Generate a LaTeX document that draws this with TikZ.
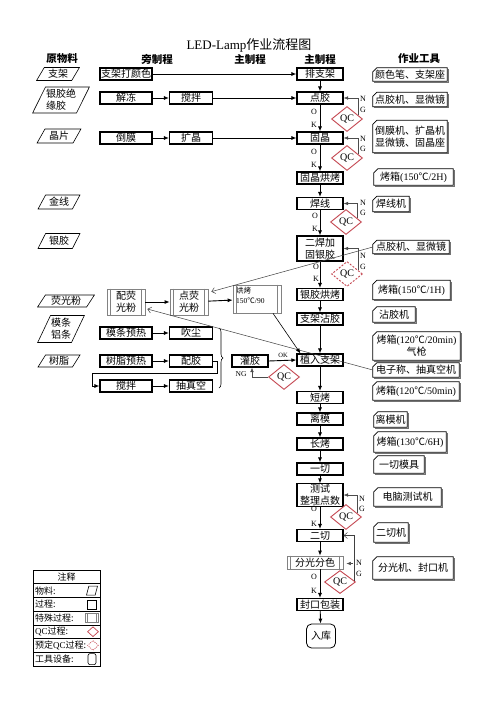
\documentclass[tikz,border=0pt]{standalone}
\usepackage{fontspec}
\setmainfont{Liberation Serif}
\newfontfamily\cjk{Noto Sans CJK SC}
\usetikzlibrary{shapes.geometric,arrows.meta,decorations.pathreplacing,calc}
\definecolor{qcred}{RGB}{196,70,80}
\definecolor{spgray}{RGB}{130,130,130}
\tikzset{
  base/.style={font=\cjk\fontsize{10}{12}\selectfont, inner sep=0.5pt, align=center},
  hdr/.style={font=\cjk\bfseries\fontsize{10.5}{12}\selectfont, inner sep=0pt},
  mainbox/.style={base, draw, line width=1.1pt, minimum width=46pt, minimum height=12pt},
  sidebox/.style={base, draw, line width=1.1pt, minimum width=52pt, minimum height=12pt},
  special/.style={base, draw=spgray, line width=0.7pt},
  mat/.style={base, draw, line width=0.6pt, trapezium, trapezium left angle=60,
    trapezium right angle=120, trapezium stretches=true},
  toolnode/.style={base},
  qc/.style={shape=diamond, draw=qcred, line width=0.9pt, minimum width=31pt,
    minimum height=25pt, inner sep=0pt, font=\rmfamily\fontsize{10}{12}\selectfont},
  oklab/.style={font=\rmfamily\fontsize{8}{9}\selectfont, inner sep=0pt},
  arr/.style={-{Latex[length=5pt,width=4pt]}, line width=0.9pt},
  ngline/.style={draw=black!70, line width=0.5pt, -{Latex[length=4.5pt,width=3.5pt]}},
  openline/.style={draw=black!75, line width=0.5pt, -{Straight Barb[length=3.5pt,width=6pt]}},
  lgtext/.style={font=\cjk\fontsize{9}{10}\selectfont, inner sep=0pt, anchor=west},
}
\begin{document}
\begin{tikzpicture}[x=1pt,y=-1pt]
\fill[white] (0,0) rectangle (500,707);
\useasboundingbox (0,0) rectangle (500,707);

% title and headers
\node[base, font=\cjk\fontsize{13}{15}\selectfont] (title) at (249,45) {{\rmfamily LED-Lamp}作业流程图};
\node[hdr] (h1) at (62,59) {原物料};
\node[hdr] (h2) at (157,59) {旁制程};
\node[hdr] (h3) at (250,59) {主制程};
\node[hdr] (h4) at (320,59) {主制程};
\node[hdr] (h5) at (419,59) {作业工具};

% materials
\node[mat, minimum width=43pt, minimum height=13pt] (m1) at (58,74) {支架};
\node[mat, minimum width=56pt, minimum height=26pt, align=left] (m2) at (61,100) {银胶绝\\缘胶};
\node[mat, minimum width=44pt, minimum height=14pt] (m3) at (59,136) {晶片};
\node[mat, minimum width=42pt, minimum height=14pt] (m4) at (59,202) {金线};
\node[mat, minimum width=42pt, minimum height=15pt] (m5) at (59,241) {银胶};
\node[mat, minimum width=57pt, minimum height=12pt] (m6) at (66,301) {荧光粉};
\node[mat, minimum width=42pt, minimum height=27pt, align=left] (m7) at (61,329) {模条\\铝条};
\node[mat, minimum width=42pt, minimum height=12pt] (m8) at (59,361) {树脂};

% side processes
\node[sidebox] (s1) at (126,74) {支架打颜色};
\node[sidebox] (s2) at (126,98) {解冻};
\node[sidebox, minimum width=43pt] (s3) at (191,98) {搅拌};
\node[sidebox] (s4) at (126,138) {倒膜};
\node[sidebox, minimum width=43pt] (s5) at (191,138) {扩晶};
\node[sidebox] (s6) at (126,333) {模条预热};
\node[sidebox, minimum width=43pt] (s7) at (191,333) {吹尘};
\node[sidebox] (s8) at (126,361) {树脂预热};
\node[sidebox, minimum width=43pt] (s9) at (191,361) {配胶};
\node[sidebox] (s10) at (126,386) {搅拌};
\node[sidebox, minimum width=43pt] (s11) at (191,386) {抽真空};

% fluorescent special processes
\node[special, minimum width=38pt, minimum height=26pt] (f1) at (126,302) {配荧\\光粉};
\node[special, minimum width=38pt, minimum height=26pt] (f2) at (189,302) {点荧\\光粉};
\node[special, minimum width=48pt, minimum height=28pt] (f3) at (257,299) {};
\node[font=\cjk\fontsize{7.5}{10}\selectfont, inner sep=0pt, anchor=north west, align=left] (f3t) at (236,287) {烘烤\\{\rmfamily 150}℃{\rmfamily /90}};
\node[sidebox, minimum width=36pt] (g) at (250,361) {灌胶};

% main column
\node[mainbox] (p1) at (320,74) {排支架};
\node[mainbox] (p2) at (320,98) {点胶};
\node[mainbox] (p3) at (320,138) {固晶};
\node[mainbox] (p4) at (320,178) {固晶烘烤};
\node[mainbox] (p5) at (320,203.5) {焊线};
\node[mainbox, minimum height=25pt] (p6) at (320,248.5) {二焊加\\固银胶};
\node[mainbox] (p7) at (320,294.5) {银胶烘烤};
\node[mainbox] (p8) at (320,319) {支架沾胶};
\node[mainbox] (p9) at (320,360) {植入支架};
\node[mainbox] (p10) at (320,397.5) {短烤};
\node[mainbox] (p11) at (320,419) {离模};
\node[mainbox] (p12) at (320,444) {长烤};
\node[mainbox] (p13) at (320,469) {一切};
\node[mainbox, minimum height=22pt] (p14) at (320,495) {测试\\整理点数};
\node[mainbox] (p15) at (320,535.5) {二切};
\node[special, minimum width=56pt, minimum height=13pt] (p16) at (315,562.5) {分光分色};
\node[mainbox] (p17) at (320,604.5) {封口包装};
\node[base, draw, line width=0.8pt, rounded corners=5pt, minimum width=29pt, minimum height=24pt] (p18) at (321,636) {入库};

% special-process inner bars
\foreach \n in {f1,f2,f3,p16} {
  \draw[spgray, line width=0.6pt] ([xshift=4pt]\n.north west) -- ([xshift=4pt]\n.south west);
  \draw[spgray, line width=0.6pt] ([xshift=-4pt]\n.north east) -- ([xshift=-4pt]\n.south east);
}

% QC diamonds
\node[qc] (q1) at (347,119) {QC};
\node[qc] (q2) at (347,158) {QC};
\node[qc] (q3) at (346,222) {QC};
\node[qc, dash pattern=on 2pt off 1.5pt] (q4) at (347,274) {QC};
\node[qc] (q5) at (284,377) {QC};
\node[qc] (q6) at (346,517) {QC};
\node[qc, minimum height=23pt] (q7) at (340,582) {QC};

% tools
\node[toolnode, minimum width=74pt, minimum height=13pt] (t1) at (410,74.5) {颜色笔、支架座};
\node[toolnode, minimum width=74pt, minimum height=14pt] (t2) at (410,99.5) {点胶机、显微镜};
\node[toolnode, minimum width=74pt, minimum height=32pt] (t3) at (410,136.5) {倒膜机、扩晶机\\显微镜、固晶座};
\node[toolnode, minimum width=79pt, minimum height=16pt] (t4) at (413.5,177) {烤箱{\rmfamily (150}℃{\rmfamily /2H)}};
\node[toolnode, minimum width=36pt, minimum height=15pt] (t5) at (391,204) {焊线机};
\node[toolnode, minimum width=76pt, minimum height=13pt] (t6) at (411,247) {点胶机、显微镜};
\node[toolnode, minimum width=77pt, minimum height=19pt] (t7) at (411.5,290) {烤箱{\rmfamily (150}℃{\rmfamily /1H)}};
\node[toolnode, minimum width=42pt, minimum height=15pt] (t8) at (394,314.5) {沾胶机};
\node[toolnode, minimum width=87pt, minimum height=28pt] (t9) at (416.5,346) {烤箱{\rmfamily (120}℃{\rmfamily /20min)}\\气枪};
\node[toolnode, minimum width=86pt, minimum height=14pt] (t10) at (416,370) {电子称、抽真空机};
\node[toolnode, minimum width=86pt, minimum height=18pt] (t11) at (416,391) {烤箱{\rmfamily (120}℃{\rmfamily /50min)}};
\node[toolnode, minimum width=33pt, minimum height=15pt] (t12) at (390.5,419.5) {离模机};
\node[toolnode, minimum width=72pt, minimum height=20pt] (t13) at (410,442) {烤箱{\rmfamily (130}℃{\rmfamily /6H)}};
\node[toolnode, minimum width=50pt, minimum height=17pt] (t14) at (399,464.5) {一切模具};
\node[toolnode, minimum width=67pt, minimum height=18pt] (t15) at (407.5,497) {电脑测试机};
\node[toolnode, minimum width=34pt, minimum height=19pt] (t16) at (391,532.5) {二切机};
\node[toolnode, minimum width=80pt, minimum height=22pt] (t17) at (413,568) {分光机、封口机};
\foreach \n in {t1,t2,t3,t4,t5,t6,t7,t8,t9,t10,t11,t12,t13,t14,t15,t16,t17} {
  \draw[line width=1.2pt, black!55] ([xshift=0.9pt,yshift=-1.5pt]\n.north east) -- ([xshift=0.9pt,yshift=-0.9pt]\n.south east) -- ([xshift=1.5pt,yshift=-0.9pt]\n.south west);
  \draw[line width=0.7pt] ([xshift=4pt]\n.north west) -- (\n.north east) -- (\n.south east) -- (\n.south west) -- ([yshift=-4pt]\n.north west) -- cycle;
}

% side connectors
\draw[arr] (s2) -- (s3);
\draw[arr] (s4) -- (s5);
\draw[arr] (s6) -- (s7);
\draw[arr] (s8) -- (s9);
\draw[arr] (s10) -- (s11);
\draw[arr] (s1.east) -- (p1.west);
\draw[arr] (s3.east) -- (p2.west);
\draw[arr] (s5.east) -- (p3.west);
\coordinate (k1) at (217,373);
\coordinate (k2) at (92,373);
\draw[arr] (s9.east) -| (k1) -- (k2) |- (s10.west);
\coordinate (br1) at (219,328);
\coordinate (br2) at (219,388);
\draw[decorate, decoration={brace, amplitude=4pt}, line width=0.6pt] (br1) -- (br2);

% fluorescent connectors
\draw[arr] (f1) -- (f2);
\draw[arr] (f2) -- (f3);
\draw[openline] (t6.west) -- ([xshift=3pt,yshift=-3pt]f2.north east);
\draw[openline] (t10.west) -- ([xshift=2pt,yshift=-7pt]f1.east);
\draw[arr, line width=0.6pt] ([xshift=16pt]f3.south) -- ([xshift=4pt]p9.north west);
\draw[arr] (g.east) -- (p9.west);
\node[font=\rmfamily\fontsize{6.5}{7}\selectfont, inner sep=0pt] (oklb) at (283,355.5) {OK};
\draw[ngline] (q5.west) -| ([xshift=2pt]g.south);
\node[font=\rmfamily\fontsize{7.5}{8}\selectfont, inner sep=0pt] (nglb) at (241,374) {NG};

% main connectors
\draw[arr] (p1) -- (p2);
\draw[arr] (p2) -- (p3);
\draw[arr] (p3) -- (p4);
\draw[arr] (p4) -- (p5);
\draw[arr] (p5) -- (p6);
\draw[arr] (p6) -- (p7);
\draw[arr] (p7) -- (p8);
\draw[arr] (p8) -- (p9);
\draw[arr] (p9) -- (p10);
\draw[arr] (p10) -- (p11);
\draw[arr] (p11) -- (p12);
\draw[arr] (p12) -- (p13);
\draw[arr] (p13) -- (p14);
\draw[arr] (p14) -- (p15);
\draw[arr] (p15.south) -- (p15.south |- p16.north);
\draw[arr] (p17.north |- p16.south) -- (p17.north);
\draw[arr] (p17) -- (p18);

% OK labels
\foreach \n/\x/\yo/\yk in {a/314/112/125, b/314/152/165, c/315/216/229, d/316/267/279, e/314/509/524, f/314/577/591} {
  \node[oklab] (o\n) at (\x,\yo) {O};
  \node[oklab] (k\n) at (\x,\yk) {K};
}

% NG return lines
\draw[ngline] ($(q1.east)!0.3!(q1.north)$) |- (p2.east);
\draw[ngline] ($(q2.east)!0.3!(q2.north)$) |- (p3.east);
\draw[ngline] ($(q3.east)!0.3!(q3.north)$) |- (p5.east);
\draw[ngline] ($(q4.east)!0.3!(q4.north)$) |- (p6.east);
\draw[ngline] ($(q6.east)!0.3!(q6.north)$) |- (p14.east);
\draw[openline] ($(q7.east)!0.1!(q7.north)$) |- (p15.east);
\coordinate (na) at (353,563.5);
\draw[ngline] (na) -- ([xshift=3pt,yshift=-1pt]p16.east);
\foreach \n/\x/\yn/\yg in {a/363/99/110, b/363/139/149, c/363/203/213, d/363/256/267, e/362/499/509, f/359/563/574} {
  \node[oklab] (n\n) at (\x,\yn) {N};
  \node[oklab] (g\n) at (\x,\yg) {G};
}

% legend
\draw[line width=0.9pt] (33,570) rectangle (100,666);
\foreach \i in {1,...,6} \draw[line width=0.6pt] (33,{570+13.714*\i}) -- (100,{570+13.714*\i});
\node[font=\cjk\fontsize{9}{10}\selectfont, inner sep=0pt] (lg0) at (66.5,576.9) {注释};
\node[lgtext] (lg1) at (35,590.6) {物料:};
\node[lgtext] (lg2) at (35,604.3) {过程:};
\node[lgtext] (lg3) at (35,618.0) {特殊过程:};
\node[lgtext] (lg4) at (35,631.7) {{\rmfamily QC}过程:};
\node[lgtext] (lg5) at (35,645.4) {预定{\rmfamily QC}过程:};
\node[lgtext] (lg6) at (35,659.1) {工具设备:};
\node[mat, minimum width=11pt, minimum height=9pt, trapezium left angle=70, trapezium right angle=110] (li1) at (92,590.6) {};
\node[draw, line width=0.5pt, minimum width=9pt, minimum height=9pt, inner sep=0pt] (li2) at (92,604.3) {};
\node[draw=spgray, line width=0.5pt, minimum width=13pt, minimum height=9pt, inner sep=0pt] (li3) at (91.5,618.0) {};
\draw[spgray, line width=0.5pt] ([xshift=2.5pt]li3.north west) -- ([xshift=2.5pt]li3.south west);
\draw[spgray, line width=0.5pt] ([xshift=-2.5pt]li3.north east) -- ([xshift=-2.5pt]li3.south east);
\node[shape=diamond, draw=qcred, line width=0.7pt, minimum width=11pt, minimum height=10pt, inner sep=0pt] (li4) at (93,631.7) {};
\node[shape=diamond, draw=qcred, line width=0.6pt, dash pattern=on 1pt off 1pt, minimum width=11pt, minimum height=10pt, inner sep=0pt] (li5) at (93,645.4) {};
\node[draw, line width=0.6pt, rounded corners=2pt, minimum width=8pt, minimum height=11pt, inner sep=0pt] (li6) at (92,659.1) {};
\end{tikzpicture}
\end{document}
